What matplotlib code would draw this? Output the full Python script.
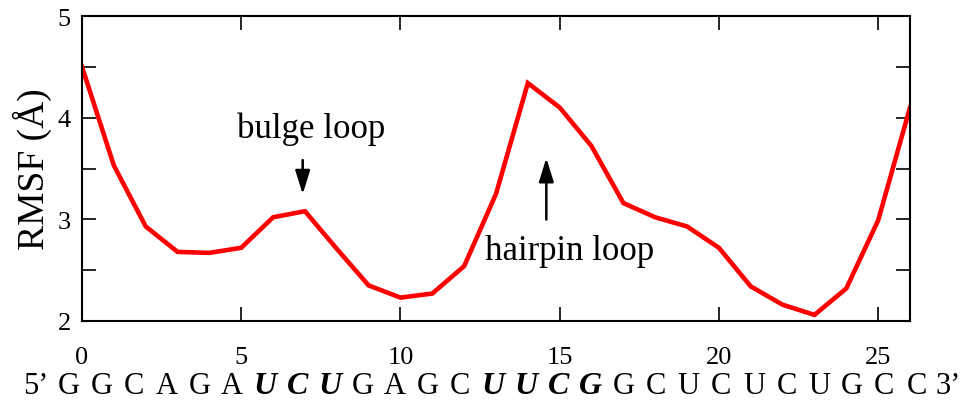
import numpy as np
import matplotlib
matplotlib.use("Agg")
import matplotlib.pyplot as plt
from matplotlib.ticker import MultipleLocator

plt.rcParams['font.family'] = ['Liberation Serif', 'DejaVu Serif']

# RMSF per residue
residue = list(range(27))
rmsf = [4.50, 3.53, 2.93, 2.68, 2.67, 2.72, 3.02, 3.08, 2.71, 2.35,
        2.23, 2.27, 2.54, 3.25, 4.34, 4.10, 3.72, 3.16, 3.02, 2.93,
        2.72, 2.34, 2.16, 2.06, 2.32, 2.99, 4.10]

sequence = list("GGCAGAUCUGAGCUUCGGCUCUCUGCC")
loop_idx = [6, 7, 8, 13, 14, 15, 16]

fig = plt.figure(figsize=(9.67, 4.02), dpi=100)
ax = fig.add_axes([82/967, 1 - 322/402, (910 - 82)/967, (322 - 17)/402])

ax.plot(residue, rmsf, color='red', lw=3.3, solid_joinstyle='miter')

ax.set_xlim(0, 26)
ax.set_ylim(2, 5)
ax.xaxis.set_major_locator(MultipleLocator(5))
ax.yaxis.set_major_locator(MultipleLocator(1))
ax.yaxis.set_minor_locator(MultipleLocator(0.5))
ax.tick_params(which='both', direction='in', top=True, right=True, width=1.2)
ax.tick_params(which='major', length=10, labelsize=19)
ax.tick_params(which='minor', length=10)
ax.tick_params(axis='x', pad=18)
ax.tick_params(axis='y', pad=8)
for sp in ax.spines.values():
    sp.set_linewidth(1.5)

ax.set_ylabel('RMSF (Å)', fontsize=27, labelpad=4)

# annotations
arrow = dict(arrowstyle='-|>,head_length=0.8,head_width=0.25', color='black', lw=1.8, mutation_scale=18)
ax.annotate('', xy=(6.93, 3.22), xytext=(6.93, 3.61), arrowprops=arrow)
ax.text(7.2, 3.90, 'bulge loop', fontsize=25, ha='center', va='center')
ax.annotate('', xy=(14.58, 3.63), xytext=(14.58, 2.97), arrowprops=arrow)
ax.text(15.3, 2.69, 'hairpin loop', fontsize=25, ha='center', va='center')

# sequence under the axis
y_seq = 0.003
x0, x1 = 69/967, 917/967
step = (x1 - x0) / (len(sequence) - 1)
fig.text(36/967, y_seq, "5\u2019", fontsize=22, ha='center', va='bottom')
for i, ch in enumerate(sequence):
    if i in loop_idx:
        fig.text(x0 + i * step, y_seq, ch, fontsize=23, ha='center', va='bottom',
                 fontweight='bold', fontstyle='italic')
    else:
        fig.text(x0 + i * step, y_seq, ch, fontsize=22, ha='center', va='bottom')
fig.text(948/967, y_seq, "3\u2019", fontsize=22, ha='center', va='bottom')

fig.savefig('out.png', dpi=100)
